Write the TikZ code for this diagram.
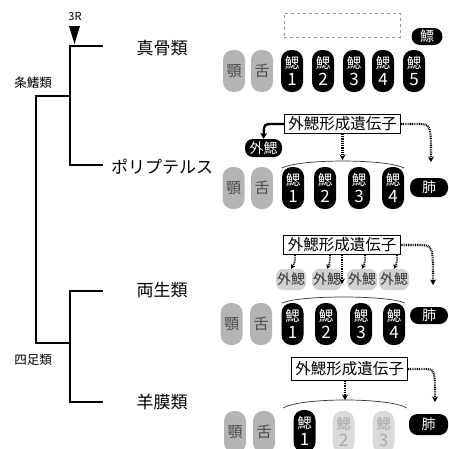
\documentclass[tikz,border=0pt]{standalone}
\usepackage{fontspec}
\setmainfont{Noto Sans CJK JP}
\usetikzlibrary{arrows.meta}
\definecolor{jawgray}{HTML}{B4B4B4}
\definecolor{jawtext}{HTML}{4A4A4A}
\definecolor{fadefill}{HTML}{DADADA}
\definecolor{fadetext}{HTML}{A8A8A8}
\definecolor{extfill}{HTML}{D2D2D2}
\begin{document}
\begin{tikzpicture}[x=1pt,y=-1pt,
  treeline/.style={line width=2.6pt, line join=miter},
  taxon/.style={font=\fontsize{17}{17}\selectfont, inner sep=0pt},
  cladelabel/.style={font=\fontsize{12.5}{12.5}\selectfont, inner sep=0pt},
  jawpill/.style={rectangle, rounded corners=10pt, fill=jawgray, text=jawtext,
    minimum width=22pt, minimum height=42pt, inner sep=0pt,
    font=\fontsize{15}{15}\selectfont},
  gillpill/.style={rectangle, rounded corners=10pt, fill=black, text=white,
    minimum width=22pt, minimum height=42pt, inner sep=0pt, align=center,
    font=\fontsize{14.5}{17.7}\selectfont},
  fadegill/.style={gillpill, fill=fadefill, text=fadetext},
  lungpill/.style={rectangle, rounded corners=8.5pt, fill=black, text=white,
    minimum width=38pt, minimum height=19pt, inner sep=0pt,
    font=\fontsize{14}{14}\selectfont},
  genebox/.style={draw, line width=0.8pt, fill=white, inner xsep=4pt, inner ysep=1.5pt,
    minimum height=19pt, font=\fontsize{15.5}{15.5}\selectfont},
  extblack/.style={rectangle, rounded corners=8pt, fill=black, text=white,
    minimum width=37pt, minimum height=18pt, inner sep=0pt,
    font=\fontsize{14}{14}\selectfont},
  extgray/.style={rectangle, rounded corners=7pt, fill=extfill, text=black!80,
    minimum width=30pt, minimum height=21pt, inner sep=0pt,
    font=\fontsize{14}{14}\selectfont},
  arcline/.style={line width=0.7pt, black!80},
  dotarrow/.style={line width=2.1pt, dash pattern=on 0.9pt off 0.9pt,
    -{Stealth[length=5.5pt,width=6pt]}},
  shortdot/.style={line width=1.7pt, dash pattern=on 0.9pt off 0.9pt,
    -{Stealth[length=4.5pt,width=5pt]}},
  solidarrow/.style={line width=2.4pt, -{Stealth[length=6pt,width=7pt]}}
]
\useasboundingbox (0,0) rectangle (449,448);

% ---------- tree ----------
\coordinate (teleEnd) at (103,46);
\coordinate (teleJ) at (70,46);
\coordinate (polyJ) at (70,165);
\coordinate (polyEnd) at (103,165);
\coordinate (actNode) at (70,96);
\coordinate (actL) at (36,96);
\coordinate (tetL) at (36,343);
\coordinate (tetNode) at (70,343);
\coordinate (ampJ) at (70,291);
\coordinate (ampEnd) at (103,291);
\coordinate (amnJ) at (70,402);
\coordinate (amnEnd) at (103,402);
\draw[treeline] (teleEnd) -- (teleJ) -- (polyJ) -- (polyEnd);
\draw[treeline] (actNode) -- (actL) -- (tetL) -- (tetNode);
\draw[treeline] (ampEnd) -- (ampJ) -- (amnJ) -- (amnEnd);
\fill (69,26) -- (80,26) -- (74.5,44) -- cycle;
\node[font=\fontsize{11}{11}\selectfont, inner sep=0pt] (threeR) at (75,17) {3R};

\node[taxon] (nTele) at (162,48) {真骨類};
\node[taxon] (nPoly) at (162,167) {ポリプテルス};
\node[taxon] (nAmph) at (162,290) {両生類};
\node[taxon] (nAmni) at (162,402) {羊膜類};
\node[cladelabel] (nAct) at (33,83) {条鰭類};
\node[cladelabel] (nTet) at (33,360) {四足類};

% ---------- row 1: teleost ----------
\node[draw=black!40, dashed, line width=0.8pt, minimum width=116pt, minimum height=24pt] (dbox) at (342,25) {};
\node[lungpill, minimum width=31pt, minimum height=17pt] (bladder) at (427,36.5) {鰾};
\node[jawpill] (jaw1) at (234,71) {顎};
\node[jawpill] (tongue1) at (262,71) {舌};
\node[gillpill] (g1a) at (292,71) {鰓\\{\fontsize{17}{17.7}\selectfont 1}};
\node[gillpill] (g1b) at (323,71) {鰓\\{\fontsize{17}{17.7}\selectfont 2}};
\node[gillpill] (g1c) at (354,71) {鰓\\{\fontsize{17}{17.7}\selectfont 3}};
\node[gillpill] (g1d) at (383,71) {鰓\\{\fontsize{17}{17.7}\selectfont 4}};
\node[gillpill] (g1e) at (414,71) {鰓\\{\fontsize{17}{17.7}\selectfont 5}};

% ---------- row 2: Polypterus ----------
\node[jawpill] (jaw2) at (233.5,188) {顎};
\node[jawpill] (tongue2) at (262,188) {舌};
\node[gillpill] (g2a) at (293,188) {鰓\\{\fontsize{17}{17.7}\selectfont 1}};
\node[gillpill] (g2b) at (325,188) {鰓\\{\fontsize{17}{17.7}\selectfont 2}};
\node[gillpill] (g2c) at (359,188) {鰓\\{\fontsize{17}{17.7}\selectfont 3}};
\node[gillpill] (g2d) at (393,188) {鰓\\{\fontsize{17}{17.7}\selectfont 4}};
\node[lungpill] (lung2) at (429,187.5) {肺};
\coordinate (a2l) at (282,168);
\coordinate (a2r) at (404,168);
\draw[arcline] (a2l) .. controls (300,158.7) and (386,158.7) .. (a2r);
\node[genebox] (gb2) at (342.5,124) {外鰓形成遺伝子};
\node[extblack] (eg2) at (263.5,148) {外鰓};
\coordinate (m2) at (342.5,160);
\coordinate (r2) at (431,162);
\draw[solidarrow] (gb2.west) -- (273,124) .. controls (264,124) .. (eg2.north);
\draw[dotarrow] (gb2.south) -- (m2);
\draw[dotarrow] (gb2.east) -- (417,124) .. controls (431,124) .. (r2);

% ---------- row 3: amphibians ----------
\node[jawpill] (jaw3) at (231.5,324) {顎};
\node[jawpill] (tongue3) at (261,324) {舌};
\node[gillpill] (g3a) at (292.5,324) {鰓\\{\fontsize{17}{17.7}\selectfont 1}};
\node[gillpill] (g3b) at (326,324) {鰓\\{\fontsize{17}{17.7}\selectfont 2}};
\node[gillpill] (g3c) at (361,324) {鰓\\{\fontsize{17}{17.7}\selectfont 3}};
\node[gillpill] (g3d) at (394,324) {鰓\\{\fontsize{17}{17.7}\selectfont 4}};
\node[lungpill, minimum height=17pt] (lung3) at (429,315.5) {肺};
\coordinate (a3l) at (282,303);
\coordinate (a3r) at (405,303);
\draw[arcline] (a3l) .. controls (300,295) and (387,295) .. (a3r);
\node[extgray] (e3a) at (291,279.5) {外鰓};
\node[extgray] (e3b) at (327,279.5) {外鰓};
\node[extgray] (e3c) at (362,279.5) {外鰓};
\node[extgray] (e3d) at (394,279.5) {外鰓};
\node[genebox] (gb3) at (342,245) {外鰓形成遺伝子};
\coordinate (s3a) at (295,255);
\coordinate (s3b) at (330,255);
\coordinate (s3c) at (365,255);
\coordinate (s3d) at (397,255);
\draw[shortdot] (s3a) .. controls (295,262) .. (e3a.north);
\draw[shortdot] (s3b) .. controls (330,262) .. (e3b.north);
\draw[shortdot] (s3c) .. controls (365,262) .. (e3c.north);
\draw[shortdot] (s3d) .. controls (397,262) .. (e3d.north);
\coordinate (m3) at (342,284);
\coordinate (r3) at (433,285);
\draw[dotarrow] (gb3.south) -- (m3);
\draw[dotarrow] (gb3.east) -- (418,245) .. controls (433,245) .. (r3);

% ---------- row 4: amniotes ----------
\node[jawpill] (jaw4) at (235,432) {顎};
\node[jawpill] (tongue4) at (264,432) {舌};
\node[gillpill] (g4a) at (304.5,431) {鰓\\{\fontsize{17}{17.7}\selectfont 1}};
\node[fadegill] (g4b) at (343.5,432) {鰓\\{\fontsize{17}{17.7}\selectfont 2}};
\node[fadegill] (g4c) at (383.5,432) {鰓\\{\fontsize{17}{17.7}\selectfont 3}};
\node[lungpill, minimum width=39pt, minimum height=21pt] (lung4) at (428.5,424.5) {肺};
\coordinate (a4l) at (283,408);
\coordinate (a4r) at (407,408);
\draw[arcline] (a4l) .. controls (301,397.3) and (389,397.3) .. (a4r);
\node[genebox, minimum height=23pt] (gb4) at (349.5,369) {外鰓形成遺伝子};
\coordinate (m4) at (345,400);
\coordinate (r4) at (435,402);
\draw[dotarrow] (gb4.south -| m4) -- (m4);
\draw[dotarrow] (gb4.east) -- (423,369) .. controls (435,369) .. (r4);
\end{tikzpicture}
\end{document}
